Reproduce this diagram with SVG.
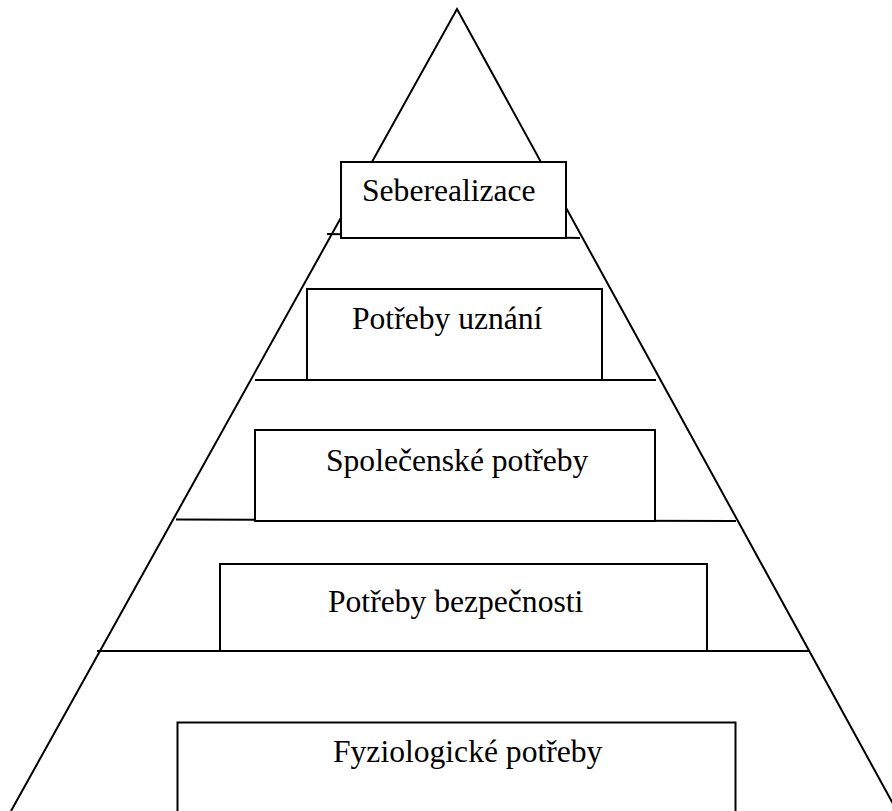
<svg xmlns="http://www.w3.org/2000/svg" width="892" height="811" viewBox="0 0 892 811">
  <style>
    .ln { stroke: #000; stroke-width: 2; fill: none; }
    .box { fill: #fff; stroke: #000; stroke-width: 2; }
    .lbl { font-family: "Liberation Serif", "Times New Roman", serif; font-size: 31.6px; fill: #000; }
  </style>
  <rect x="0" y="0" width="892" height="811" fill="#fff"/>
  <g id="connectors">
    <path class="ln" d="M11,811 L457,9 L897,811" stroke-linejoin="miter"/>
    <line class="ln" x1="327" y1="234" x2="580" y2="238"/>
    <line class="ln" x1="255" y1="380" x2="656" y2="380"/>
    <line class="ln" x1="176" y1="519.5" x2="736" y2="521"/>
    <line class="ln" x1="97" y1="651" x2="809" y2="651"/>
  </g>
  <g id="seberealizace">
    <rect class="box" x="341" y="162" width="225" height="76"/>
    <text class="lbl" x="362" y="201">Seberealizace</text>
  </g>
  <g id="potreby-uznani">
    <rect class="box" x="307" y="289" width="295" height="91"/>
    <text class="lbl" x="352" y="329">Potřeby uznání</text>
  </g>
  <g id="spolecenske-potreby">
    <rect class="box" x="255" y="430" width="400" height="91"/>
    <text class="lbl" x="326" y="471">Společenské potřeby</text>
  </g>
  <g id="potreby-bezpecnosti">
    <rect class="box" x="220" y="564" width="487" height="87"/>
    <text class="lbl" x="328" y="612">Potřeby bezpečnosti</text>
  </g>
  <g id="fyziologicke-potreby">
    <rect class="box" x="177.5" y="722.5" width="558" height="100"/>
    <text class="lbl" x="333" y="762">Fyziologické potřeby</text>
  </g>
</svg>
